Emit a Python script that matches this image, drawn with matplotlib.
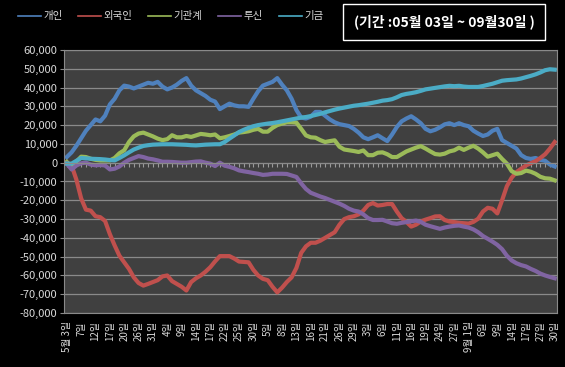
import matplotlib.pyplot as plt
from matplotlib.ticker import FuncFormatter

plt.rcParams['font.family'] = ['Noto Sans CJK KR', 'DejaVu Sans']

# 2010 trading days, 05/03 ~ 09/30
dates = ["05/03", "05/04", "05/06", "05/07", "05/10", "05/11", "05/12", "05/13", "05/14", "05/17",
         "05/18", "05/19", "05/20", "05/24", "05/25", "05/26", "05/27", "05/28", "05/31",
         "06/01", "06/03", "06/04", "06/07", "06/08", "06/09", "06/10", "06/11", "06/14", "06/15",
         "06/16", "06/17", "06/18", "06/21", "06/22", "06/23", "06/24", "06/25", "06/28", "06/29", "06/30",
         "07/01", "07/02", "07/05", "07/06", "07/07", "07/08", "07/09", "07/12", "07/13", "07/14",
         "07/15", "07/16", "07/19", "07/20", "07/21", "07/22", "07/23", "07/26", "07/27", "07/28",
         "07/29", "07/30",
         "08/02", "08/03", "08/04", "08/05", "08/06", "08/09", "08/10", "08/11", "08/12", "08/13",
         "08/16", "08/17", "08/18", "08/19", "08/20", "08/23", "08/24", "08/25", "08/26", "08/27",
         "08/30", "08/31",
         "09/01", "09/02", "09/03", "09/06", "09/07", "09/08", "09/09", "09/10", "09/13", "09/14",
         "09/15", "09/16", "09/17", "09/20", "09/24", "09/27", "09/28", "09/29", "09/30"]

tick_labels = ["5월 3일", "7일", "12일", "17일", "20일", "26일", "31일", "4일", "9일", "14일",
               "17일", "22일", "25일", "30일", "5일", "8일", "13일", "16일", "21일", "26일",
               "29일", "3일", "6일", "11일", "16일", "19일", "24일", "27일", "9월 1일", "6일",
               "9일", "14일", "17일", "27일", "30일"]

# cumulative net buying, in thousands
gaein = [3, 5.5, 9, 13, 17, 20, 23, 22, 25, 31, 34, 38.5, 41, 40.5, 39.5, 40.5, 41.5, 42.5, 42, 43,
         40.5, 39, 40, 41.5, 43.5, 45, 41, 38.5, 37, 35.5, 33.5, 32.5, 28.5, 30, 31.4, 30.5, 30, 30, 29.7, 34,
         38, 41, 42, 43, 45, 41.5, 38.5, 34, 28, 24, 23.5, 24.5, 27, 27, 25, 23, 21.5, 20.5, 20, 19.5,
         18, 16, 13.5, 12.5, 13.5, 14.6, 13, 11.5, 15, 19, 22, 23.5, 24.7, 23, 21, 18, 16.7, 17.5, 18.8, 20.4,
         21, 20, 21, 20, 19.4, 17, 15.5, 14.2, 15, 17, 18, 12, 10.5, 9, 7.5, 4, 2.5, 2, 2.5, 1.5,
         1, -1, -2]
foreign = [0, -1.5, -9, -19, -25, -25.5, -28.5, -29, -31, -38, -44, -49.5, -53, -56.5, -61, -64, -65.4, -64.5, -63.5, -62.5,
           -60.5, -60, -63, -64.5, -66, -68, -63.5, -61.5, -60, -58, -55.6, -52.5, -49.7, -49.7, -49.7, -51, -52.6, -52.8, -53, -57,
           -60, -61.8, -62.5, -66, -69, -66.5, -63.5, -61, -56, -48, -44.5, -42.6, -42.6, -41.5, -40, -38.5, -37, -33, -30, -29,
           -28.5, -27.5, -25.5, -22.5, -21.5, -22.8, -22.5, -22, -22, -26, -29.5, -31.5, -34, -33, -31.3, -30.3, -29.5, -28.6, -28.5, -30.5,
           -31.3, -31.6, -32, -32.2, -32.4, -31.5, -29.8, -26, -24, -24.5, -27, -20, -12.5, -8, -5, -3.2, -1.5, -0.3, 0.8, 2.5,
           4.5, 7.5, 11]
inst = [0.4, -2.5, 0.5, 3.2, 3, 2.1, 1.5, 1.2, 1.2, 1.2, 2.5, 5, 6.6, 11, 14, 15.5, 16, 15, 14, 12.8,
        12, 12.5, 14.6, 13.5, 13.5, 14.2, 13.7, 14.5, 15.3, 15, 14.6, 15, 13, 13.5, 14.2, 15, 16, 16.3, 16.7, 17.5,
        18, 16.5, 16.5, 18.5, 20, 20.8, 21.5, 21.5, 21.3, 18, 14.5, 13.5, 13.3, 12, 11, 11.5, 11.9, 8.5, 7, 6.6,
        6.2, 5.7, 6.5, 4, 4, 5.3, 5.5, 4.5, 3, 3, 4.5, 6, 7, 8, 8.8, 7.5, 6, 4.6, 4.3, 4.8,
        6, 6.6, 8, 6.8, 8, 9, 7.5, 5.5, 3.2, 4, 4.8, 2, -0.5, -4.5, -5.9, -5.5, -4.2, -4.8, -5.9, -7.5,
        -8.3, -8.5, -9.4]
tusin = [-0.5, -3.6, -1.5, -0.3, 0, -1, -1.4, -1.2, -1.5, -3.6, -3.2, -2, 0, 1.5, 2.5, 3.5, 3, 2.2, 1.8, 1.2,
         0.5, 0.5, 0.4, 0.2, 0, 0, 0.3, 0.6, 0.7, 0, -0.5, -1.8, 0, -1.6, -2.2, -3, -4.1, -4.6, -5, -5.5,
         -5.9, -6.5, -6.3, -5.9, -5.9, -5.9, -6, -6.8, -7.6, -11, -14, -16, -17, -18, -18.8, -19.8, -20.8, -21.8, -23, -24.5,
         -25.5, -26, -27.5, -29.5, -30.5, -30.5, -30.4, -31.3, -32.2, -32.5, -32, -31.6, -31.2, -30.8, -31.5, -33, -33.8, -34.5, -35.2, -34.5,
         -34, -33.6, -33.4, -34, -34.5, -35.5, -37, -39, -40.5, -42, -43.7, -46, -49.5, -52, -53.5, -54.5, -55.2, -56.5, -57.6, -59,
         -60, -60.8, -61.5]
gigeum = [-0.5, -0.5, 1, 2.5, 2.3, 2.1, 2, 1.9, 1.7, 1.4, 1.2, 2.5, 3.9, 5.5, 7, 8, 8.9, 9.3, 9.6, 9.7,
          9.8, 9.8, 9.8, 9.7, 9.6, 9.5, 9.3, 9.2, 9.4, 9.6, 9.7, 9.8, 9.8, 11, 12.8, 14.5, 16.3, 17.5, 18.5, 19.4,
          20, 20.4, 20.8, 21.1, 21.5, 22, 22.5, 23, 23.5, 24, 24.3, 24.8, 25.4, 26, 26.8, 27.5, 28.2, 28.8, 29.3, 29.8,
          30.3, 30.6, 31, 31.4, 31.9, 32.4, 33, 33.3, 33.8, 34.8, 36, 36.6, 37, 37.5, 38.2, 39, 39.4, 39.8, 40.2, 40.6,
          40.9, 40.7, 40.9, 40.5, 40.3, 40.3, 40.3, 40.8, 41.4, 42, 42.8, 43.6, 43.9, 44.1, 44.3, 44.8, 45.5, 46.2, 47, 48,
          49.2, 49.7, 49.5]

series = [("개인", gaein, "#4F81BD"), ("외국인", foreign, "#C0504D"), ("기관계", inst, "#9BBB59"),
          ("투신", tusin, "#8064A2"), ("기금", gigeum, "#4BACC6")]

fig = plt.figure(figsize=(5.65, 3.67), dpi=100, facecolor='black')
ax = fig.add_axes([0.114, 0.147, 0.872, 0.717])
ax.set_facecolor('#404040')

x = range(len(dates))
for name, vals, color in series:
    ax.plot(x, [v * 1000 for v in vals], color=color, lw=3, label=name, solid_joinstyle='round')

ax.set_xlim(-0.5, len(dates) - 0.5)
ax.set_ylim(-80000, 60000)
ax.set_yticks(range(-80000, 60001, 10000))
ax.yaxis.set_major_formatter(FuncFormatter(lambda v, p: f"{v:,.0f}"))
ax.grid(axis='y', color='#8a8a8a', lw=0.9)
ax.set_axisbelow(True)
ax.tick_params(axis='y', colors='#8a8a8a', labelcolor='#d9d9d9', labelsize=8, length=3, pad=2)

# category ticks on the zero line
ax.spines['bottom'].set_position(('data', 0))
ax.set_xticks(list(x))
ax.tick_params(axis='x', colors='#9a9a9a', length=3, width=0.8, labelbottom=False)
for s in ['left', 'right', 'top', 'bottom']:
    ax.spines[s].set_color('#8a8a8a')

sec = ax.secondary_xaxis(0)
sec.set_xticks(list(x)[::3], tick_labels)
sec.tick_params(length=0, labelcolor='#d9d9d9', labelsize=7, labelrotation=90, pad=6)
sec.spines['bottom'].set_color('#8a8a8a')
for lab in sec.get_xticklabels():
    lab.set_verticalalignment('top')

leg = fig.legend(loc='upper left', bbox_to_anchor=(0.015, 0.995), ncol=5, frameon=False,
                 handlelength=2.2, handletextpad=0.25, columnspacing=1.5,
                 labelcolor='#d9d9d9', fontsize=7.5)
for line in leg.get_lines():
    line.set_linewidth(1.2)

fig.text(0.786, 0.94, "(기간 :05월 03일 ~ 09월30일 )", color='white', fontsize=10,
         fontweight='bold', ha='center', va='center',
         bbox=dict(boxstyle='square,pad=0.75', fc='black', ec='white', lw=1))

fig.savefig('out.png', dpi=100, facecolor='black')
